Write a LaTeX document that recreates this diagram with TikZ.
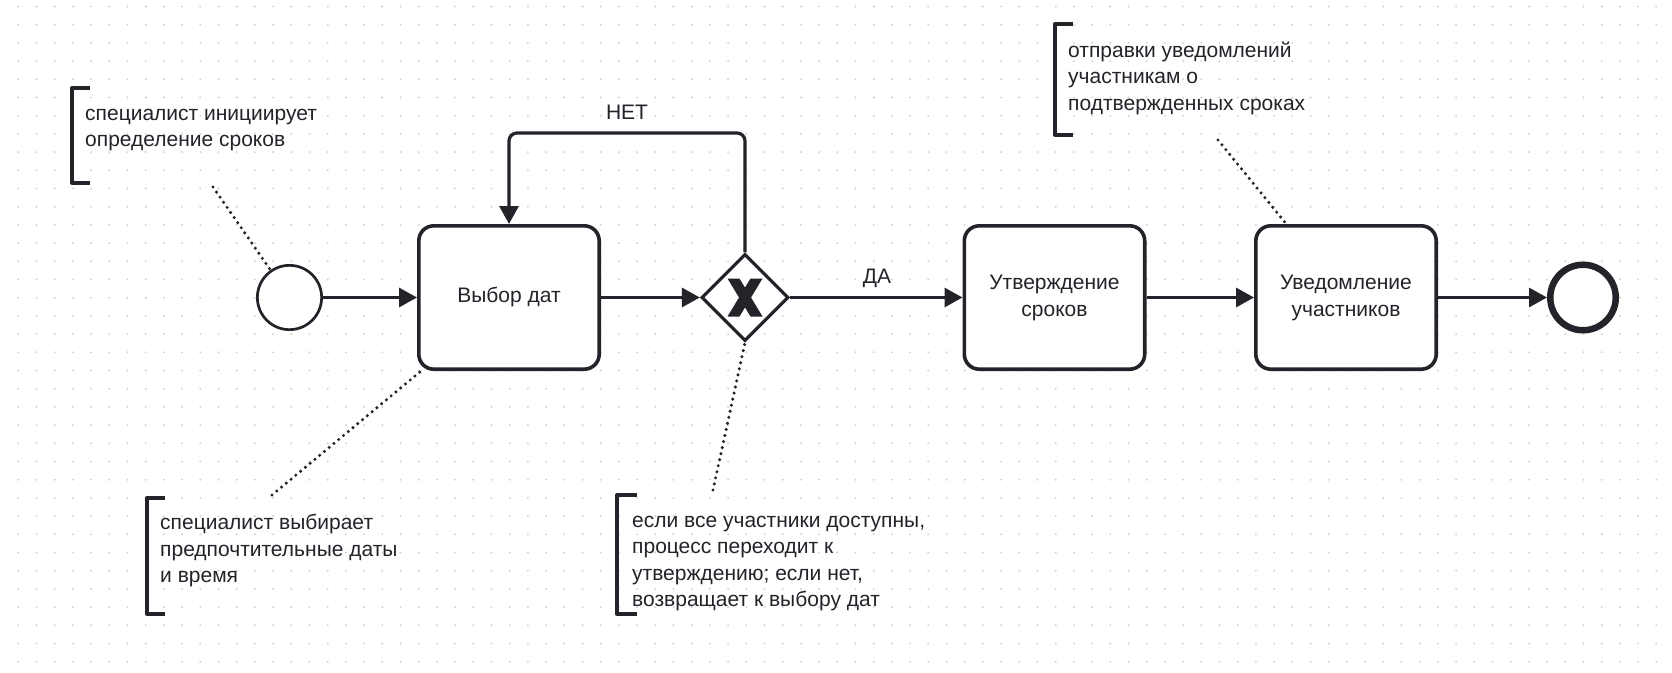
\documentclass[tikz,border=0pt]{standalone}
\usepackage{fontspec}
\setmainfont{Liberation Sans}
\usetikzlibrary{arrows.meta,shapes.geometric}
\definecolor{ink}{HTML}{22242A}
\definecolor{griddot}{HTML}{D2D2D2}
\newcommand\lblfont{\fontsize{21}{26.5}\selectfont}
\begin{document}
\begin{tikzpicture}[x=1pt,y=-1pt,
  flow/.style={draw=ink, line width=3.2pt, -{Triangle[length=18pt,width=19pt]}},
  taskbox/.style={draw=ink, line width=3.6pt, rounded corners=15pt, minimum width=180.4pt, minimum height=143.4pt, fill=white, align=center, font=\lblfont, text=ink, inner sep=0pt},
  assoc/.style={draw=ink, line width=3.4pt, line cap=round, dash pattern=on 0pt off 6.2pt},
  annbr/.style={draw=ink, line width=3.3pt, line join=round},
  anntext/.style={anchor=north west, align=left, inner sep=0pt, text=ink, font=\lblfont},
  lbl/.style={font=\lblfont, text=ink, inner sep=0pt, anchor=base}]
\useasboundingbox (0,0) rectangle (1672,672);
\fill[white] (0,0) rectangle (1672,672);
\foreach \i in {0,...,91}{\foreach \j in {0,...,36}{\fill[griddot] ({18.3+\i*18.2},{6.5+\j*18.2}) circle (1.1pt);}}

% elements
\node[circle, draw=ink, line width=2.7pt, minimum size=64.3pt, inner sep=0pt, fill=white] (start) at (289.5,297.5) {};
\node[taskbox] (t1) at (509,297.5) {\strut Выбор дат};
\node[diamond, draw=ink, line width=3.2pt, minimum width=87pt, minimum height=87pt, inner sep=0pt, fill=white] (gw) at (745,297.5) {};
\node[taskbox] (t2) at (1054.5,297.5) {\strut Утверждение\\\strut сроков};
\node[taskbox] (t3) at (1346,297.5) {\strut Уведомление\\\strut участников};
\node[circle, draw=ink, line width=6.5pt, minimum size=65.5pt, inner sep=0pt, fill=white] (end) at (1583,297.5) {};

% gateway marker
\begin{scope}[shift={(gw.center)}]
  \fill[ink] (-17.5,-19) -- (-5.5,-19) -- (0,-9.9) -- (5.5,-19) -- (17.5,-19) -- (6,0) -- (17.5,19) -- (5.5,19) -- (0,9.9) -- (-5.5,19) -- (-17.5,19) -- (-6,0) -- cycle;
\end{scope}

% sequence flows
\draw[flow] (start) -- (t1);
\draw[flow] (t1) -- (gw);
\draw[flow] (gw) -- (t2);
\draw[flow] (t2) -- (t3);
\draw[flow] (t3) -- (end);
\coordinate (loopc) at (627,133);
\draw[flow, rounded corners=8pt] (gw.north) |- (loopc) -| (t1.north);
\node[lbl] (no) at (627,119.5) {НЕТ};
\node[lbl] (yes) at (877,283) {ДА};

% annotations
\draw[annbr] (90,88) -- (72,88) -- (72,183) -- (90,183);
\node[anntext] (ann1) at (85,101.45) {\strut специалист инициирует\\\strut определение сроков};
\draw[annbr] (165,498) -- (147,498) -- (147,614) -- (165,614);
\node[anntext] (ann2) at (160,511) {\strut специалист выбирает\\\strut предпочтительные даты\\\strut и время};
\draw[annbr] (637,495) -- (617,495) -- (617,614) -- (637,614);
\node[anntext] (ann3) at (632,508.5) {\strut если все участники доступны,\\\strut процесс переходит к\\\strut утверждению; если нет,\\\strut возвращает к выбору дат};
\draw[annbr] (1073,24) -- (1055,24) -- (1055,135) -- (1073,135);
\node[anntext] (ann4) at (1068,38.5) {\strut отправки уведомлений\\\strut участникам о\\\strut подтвержденных сроках};

% associations
\coordinate (a1c) at (213,187);
\coordinate (a2c) at (272,495);
\coordinate (a3c) at (713,490);
\coordinate (a4c) at (1218,140);
\draw[assoc] (a1c) -- (start);
\draw[assoc] (a2c) -- (t1);
\draw[assoc] (a3c) -- (gw.south);
\draw[assoc] (a4c) -- (t3);
\end{tikzpicture}
\end{document}
